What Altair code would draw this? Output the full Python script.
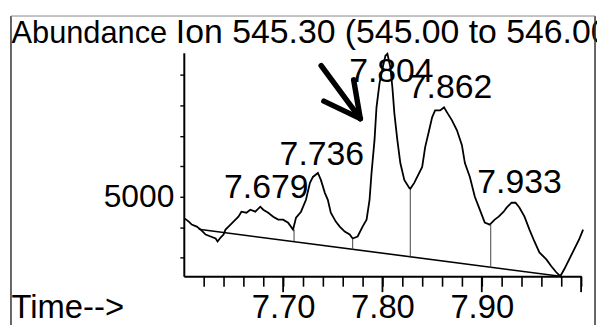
import altair as alt
import pandas as pd

FONT = "Liberation Sans"

# ---- data ----
trace_t = [7.601, 7.605, 7.608, 7.613, 7.617, 7.622, 7.627, 7.632, 7.634, 7.637,
           7.640, 7.642, 7.645, 7.650, 7.655, 7.658, 7.663, 7.667, 7.672, 7.677,
           7.680, 7.685, 7.690, 7.695, 7.700, 7.705, 7.710, 7.713, 7.718, 7.723,
           7.727, 7.730, 7.735, 7.738, 7.742, 7.745, 7.748, 7.753, 7.757, 7.762,
           7.767, 7.770, 7.775, 7.780, 7.784, 7.787, 7.789, 7.792, 7.794, 7.797,
           7.800, 7.803, 7.805, 7.808, 7.810, 7.812, 7.815, 7.818, 7.822, 7.827,
           7.828, 7.832, 7.835, 7.840, 7.843, 7.847, 7.850, 7.853, 7.858, 7.862,
           7.865, 7.870, 7.875, 7.880, 7.883, 7.888, 7.893, 7.898, 7.903, 7.908,
           7.913, 7.917, 7.922, 7.925, 7.930, 7.934, 7.938, 7.943, 7.948, 7.953,
           7.958, 7.965, 7.970, 7.975, 7.979, 7.983, 7.988, 7.993, 7.998, 8.002]
trace_a = [4283, 4186, 4088, 4023, 3925, 3762, 3697, 3632, 3534, 3665,
           3762, 3925, 4023, 4186, 4349, 4511, 4479, 4577, 4511, 4674,
           4577, 4479, 4349, 4251, 4251, 4153, 3925, 4316, 4511, 4902,
           5456, 5651, 5782, 5554, 5130, 4902, 4479, 4186, 4023, 3860,
           3762, 3632, 3697, 4023, 4251, 4902, 5782, 6856, 7931, 8713,
           9202, 9625, 9690, 9234, 8583, 7736, 6856, 6107, 5554, 5293,
           5261, 5456, 5651, 5977, 6629, 7182, 7606, 7834, 7834, 7931,
           7768, 7508, 7182, 6694, 6107, 5651, 5000, 4577, 4153, 4088,
           4251, 4349, 4511, 4642, 4805, 4805, 4642, 4349, 3925, 3534,
           3176, 2948, 2720, 2525, 2394, 2622, 2948, 3274, 3600, 3925]

baseline_t = [7.615, 7.979]
baseline_a = [3935, 2394]

drop_t = [7.711, 7.770, 7.828, 7.909]
drop_top = [3925, 3622, 5228, 4088]
drop_bot = [3544, 3274, 3003, 2678]

peak_labels = ["7.679", "7.736", "7.804", "7.862", "7.933"]
label_t = [7.683, 7.739, 7.809, 7.868, 7.938]
label_a = [4967, 6042, 8778, 8224, 5130]

major_ticks = [7.70, 7.80, 7.90, 8.00]
minor_ticks = [7.62, 7.64, 7.66, 7.68, 7.70, 7.72, 7.74, 7.76, 7.78, 7.80,
               7.82, 7.84, 7.86, 7.88, 7.90, 7.92, 7.94, 7.96, 7.98, 8.00]
y_ticks = [3000, 4000, 5000, 6000, 7000, 8000, 9000]

arrow_t = [7.7383, 7.7777, 7.7777]
arrow_a = [9299, 7563, 7563]
arrow_t2 = [7.7777, 7.7710, 7.7410]
arrow_a2 = [7563, 8834, 8137]

title_text = "Ion 545.30 (545.00 to 546.00)"

# ---- tables ----
trace_df = pd.DataFrame({"t": trace_t, "a": trace_a})
base_df = pd.DataFrame({"t": baseline_t, "a": baseline_a})
drop_df = pd.DataFrame({"t": drop_t, "a": drop_top, "a2": drop_bot})
lab_df = pd.DataFrame({"t": label_t, "a": label_a, "txt": peak_labels})
major_df = pd.DataFrame({"t": major_ticks})
arrow_df = pd.DataFrame({"t": arrow_t, "a": arrow_a, "t2": arrow_t2, "a2": arrow_a2})
one = pd.DataFrame({"k": [0]})

xs = alt.Scale(domain=[7.6, 8.0], nice=False, zero=False)
ys = alt.Scale(domain=[2394, 9723], nice=False, zero=False)

xaxis = alt.Axis(values=minor_ticks, format=".2f",
                 labelExpr="(abs(datum.value-7.7)<0.001||abs(datum.value-7.8)<0.001||abs(datum.value-7.9)<0.001) ? format(datum.value,'.2f') : ''",
                 tickSize=10, tickWidth=1.6, tickColor="black",
                 domainColor="black", domainWidth=2,
                 labelFont=FONT, labelFontSize=33, labelColor="black",
                 labelBaseline="alphabetic", labelPadding=32,
                 labelOverlap=False, labelFlush=False, grid=False,
                 title="Time-->", titleFont=FONT, titleFontSize=33,
                 titleFontWeight="normal", titleColor="black",
                 titleX=-174, titleY=42, titleAlign="left",
                 titleBaseline="alphabetic", titleAngle=0)
yaxis = alt.Axis(values=y_ticks,
                 labelExpr="datum.value==5000 ? '5000' : ''",
                 tickSize=4, tickWidth=1.4, tickColor="black",
                 domainColor="black", domainWidth=2,
                 labelFont=FONT, labelFontSize=32, labelColor="black",
                 labelPadding=6, labelOverlap=False, grid=False,
                 title="Abundance", titleFont=FONT, titleFontSize=31,
                 titleFontWeight="normal", titleColor="black",
                 titleAngle=0, titleX=-174, titleY=-10, titleAlign="left",
                 titleBaseline="alphabetic")

X = alt.X("t:Q", scale=xs, axis=xaxis)
Y = alt.Y("a:Q", scale=ys, axis=yaxis)

trace = alt.Chart(trace_df).mark_line(color="black", strokeWidth=1.8).encode(
    x=X, y=Y, order="t:Q",
)

base = alt.Chart(base_df).mark_line(color="black", strokeWidth=1.6).encode(
    x=X, y=Y,
)

drops = alt.Chart(drop_df).mark_rule(color="#444444", strokeWidth=1).encode(
    x=X, y=Y, y2="a2:Q",
)

majors = alt.Chart(major_df).mark_rule(color="black", strokeWidth=1.8).encode(
    x=X, y=alt.value(225), y2=alt.value(241),
)

labels = alt.Chart(lab_df).mark_text(font=FONT, fontSize=34, color="black",
                                     align="center", baseline="alphabetic").encode(
    x=X, y=Y, text="txt:N",
)

arrow = alt.Chart(arrow_df).mark_rule(color="black", strokeWidth=5.5,
                                      strokeCap="round").encode(
    x=X, y=Y, x2="t2:Q", y2="a2:Q",
)

title = alt.Chart(one).mark_text(font=FONT, fontSize=34, color="black",
                                 align="left", baseline="alphabetic").encode(
    x=alt.value(-8), y=alt.value(-10), text=alt.value(title_text),
)

frame_left = alt.Chart(one).mark_rule(color="#333333", strokeWidth=1.5).encode(
    x=alt.value(-174), y=alt.value(-37), y2=alt.value(290))
frame_right = alt.Chart(one).mark_rule(color="#333333", strokeWidth=1.5).encode(
    x=alt.value(414), y=alt.value(-37), y2=alt.value(290))
frame_top = alt.Chart(one).mark_rule(color="#888888", strokeWidth=1).encode(
    y=alt.value(-37), x=alt.value(-174), x2=alt.value(414))

chart = alt.layer(
    trace, base, drops, majors, labels, arrow, title,
    frame_left, frame_right, frame_top,
).properties(
    width=400, height=225,
    autosize=alt.AutoSizeParams(type="none"),
    padding={"left": 177, "top": 44, "right": 16, "bottom": 48},
    background="white",
).configure_view(stroke=None)

chart.save("out.html", embed_options={"renderer": "svg", "actions": False})
